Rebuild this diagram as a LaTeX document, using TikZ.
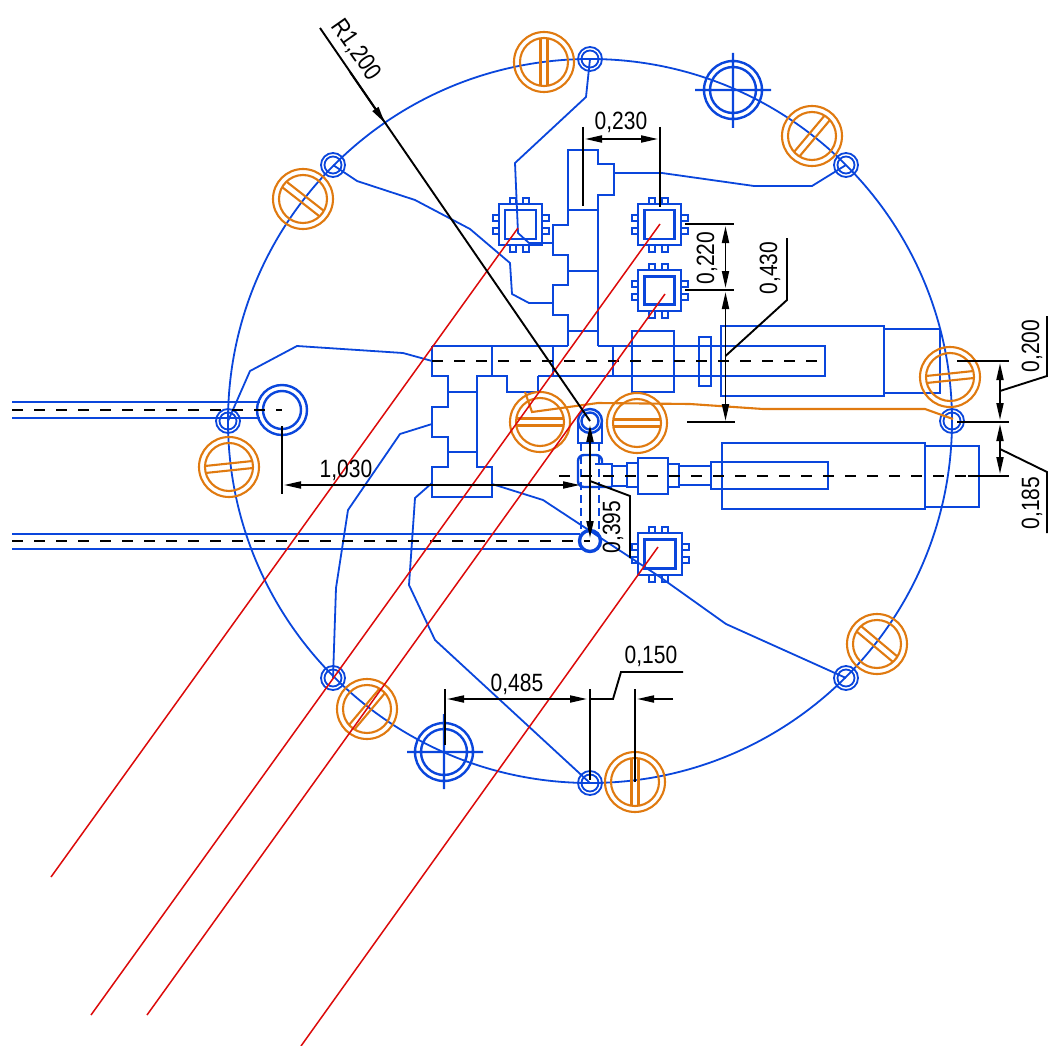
\documentclass[tikz,border=0pt]{standalone}
\usepackage{fontspec}
\setmainfont[FakeStretch=0.84]{Liberation Sans}
\usetikzlibrary{arrows.meta}
\definecolor{cblue}{HTML}{0A46DC}
\definecolor{corange}{HTML}{E07A10}
\definecolor{cred}{HTML}{DC0A0A}
\tikzset{
  part/.style={draw=cblue,line width=2.4pt,line join=miter},
  wire/.style={draw=cblue,line width=1.8pt,line join=round},
  screw/.style={draw=corange,line width=2.1pt},
  redline/.style={draw=cred,line width=1.5pt},
  dimline/.style={draw=black,line width=1.9pt},
  centreline/.style={draw=black,line width=2.1pt,dash pattern=on 11pt off 11pt},
  hiddenline/.style={draw=cblue,line width=2.1pt,dash pattern=on 8pt off 5pt},
  harrow/.style={{Triangle[length=17pt,width=7pt]}-{Triangle[length=17pt,width=7pt]}},
  tarrow/.style={-{Triangle[length=17pt,width=7pt]}},
  dimtext/.style={font=\fontsize{25}{25}\selectfont,inner sep=0pt,text=black}
}
\newcommand{\smallring}[1]{%
  \draw[wire] (#1) circle (12pt) (#1) circle (8.5pt);}
\newcommand{\slotscrew}[2]{%
  \draw[screw] (#1) circle (30pt) (#1) circle (24pt);
  \begin{scope}[shift={(#1)},rotate={-(#2)}]
    \draw[screw] (-23.6,-3.5) -- (23.6,-3.5) (-23.6,3.5) -- (23.6,3.5);
  \end{scope}}
\newcommand{\chipbox}[6]{%
  \draw[part] (#1,#2) rectangle (#3,#4);
  \draw[part] (#1+#5,#2+#6) rectangle (#3-#5,#4-#6);
  \foreach \pp in {11,24}{
    \draw[part,line width=2pt] (#1+\pp,#2) rectangle (#1+\pp+6,#2-6.5);
    \draw[part,line width=2pt] (#1+\pp,#4) rectangle (#1+\pp+6,#4+6.5);
    \draw[part,line width=2pt] (#1,#2+\pp) rectangle (#1-6.5,#2+\pp+6);
    \draw[part,line width=2pt] (#3,#2+\pp) rectangle (#3+6.5,#2+\pp+6);
  }}
\begin{document}
\begin{tikzpicture}[x=1pt,y=-1pt]
\useasboundingbox (0,0) rectangle (1050,1046);
\fill[white] (0,0) rectangle (1050,1046);

% big circle and wires
\coordinate (C) at (590,421);
\draw[wire] (C) circle (362pt);
\draw[wire] (590,59) -- (586,97) -- (515,163) -- (518,233) -- (529,243) -- (553,243);
\draw[wire] (333,165) -- (357,181) -- (415,200) -- (470,229) -- (510,263) -- (512,294) -- (529,303) -- (553,303);
\draw[wire] (846,165) -- (812,186) -- (754,186) -- (662,173) -- (614,173);
\draw[wire] (228,421) -- (250,371) -- (297,346) -- (403,353) -- (432,361);
\draw[wire] (333,678) -- (336,588) -- (348,510) -- (400,434) -- (432,424);
\draw[wire] (590,783) -- (435,640) -- (409,585) -- (415,498) -- (432,483);
\draw[wire] (846,678) -- (726,624) -- (660,577) -- (543,500) -- (492,484);

% blue parts: top block
\draw[part] (568,346) -- (568,315) -- (553,315) -- (553,285) -- (568,285) -- (568,255) -- (553,255) -- (553,225) -- (568,225) -- (568,150) -- (598,150) -- (598,164) -- (614,164) -- (614,195) -- (598,195) -- (598,346);
\draw[part] (568,210) -- (598,210) (568,271) -- (598,271) (568,331) -- (598,331);
% main band and left T
\draw[part] (432,346) -- (568,346) (598,346) -- (825,346) -- (825,376) -- (538,376);
\draw[part] (432,346) -- (432,376) -- (448,376) -- (448,407) -- (432,407) -- (432,437) -- (448,437) -- (448,467) -- (432,467) -- (432,497) -- (492,497) -- (492,467) -- (477,467) -- (477,376) -- (507,376) -- (507,392) -- (538,392) -- (538,376);
\draw[part] (448,392) -- (477,392) (448,452) -- (477,452);
\draw[part] (492,346) -- (492,376) (553,346) -- (553,376) (613,346) -- (613,376);
\draw[part] (632,331) rectangle (674,392);
\draw[part] (699,337) rectangle (711,386);
\draw[part] (721,326) rectangle (884,396);
\draw[part] (884,329) rectangle (940,393);
% lower assembly
\draw[part] (722,443) rectangle (925,509);
\draw[part] (925,446) rectangle (979,507);
\draw[part] (711,462) rectangle (828,489);
\draw[part] (679,466) -- (711,466) (679,485) -- (711,485);
\draw[part] (612,466) -- (627,466) (612,486) -- (627,486);
\draw[part] (627,463) rectangle (638,487);
\draw[part] (638,458) rectangle (668,494);
\draw[part] (668,464) rectangle (679,487);
\draw[part] (578,423) -- (578,443) -- (602,443) -- (602,423);
\draw[part,rounded corners=6pt] (602,464) -- (602,455) -- (578,455) -- (578,487) -- (612,487);
\draw[part] (595,464) -- (612,464) -- (612,487);
\draw[hiddenline] (581,443) -- (581,534) (599,443) -- (599,534);
% left bands
\draw[part] (12,402) -- (260,402) (12,418) -- (260,418);
\draw[part] (12,534) -- (580,534) (12,549) -- (582,549);
\draw[part] (282,410) circle (25pt) (282,410) circle (19pt);
\draw[part,line width=3.4pt] (590,541) circle (10.5pt);
% crosshair circles
\draw[part] (733,90) circle (29pt) (733,90) circle (23pt) (695,90) -- (771,90) (733,53) -- (733,128);
\draw[part] (444,752) circle (29pt) (444,752) circle (23pt) (407,752) -- (483,752) (444,714) -- (444,789);
% chips
\chipbox{499}{204}{542}{245}{6}{6}
\chipbox{638}{204}{681}{245}{6.5}{6}
\chipbox{638}{270}{681}{311}{6.5}{6.5}
\chipbox{638}{533}{682}{575}{6.5}{6.5}
% small rings
\foreach \xx/\yy in {590/59,846/165,952/421,846/678,590/783,333/678,228/421,333/165}{
  \smallring{\xx,\yy}}
\draw[part] (C) circle (12pt) (C) circle (8.5pt);

% orange screws
\slotscrew{544,62}{90}
\slotscrew{812,136}{-50}
\slotscrew{303,199}{38}
\slotscrew{229,467}{-6}
\slotscrew{367,709}{-50}
\slotscrew{635,782}{90}
\slotscrew{877,644}{40}
\slotscrew{950,377}{-6}
\slotscrew{540,422}{0}
\slotscrew{637,423}{0}
\draw[screw] (953,419) -- (925,409) -- (763,409) -- (690,404) -- (598,403) -- (532,412) -- (525,392);

% centre lines
\draw[centreline] (432,361) -- (825,361);
\draw[centreline] (559,476) -- (980,476);
\draw[centreline] (12,410) -- (282,410);
\draw[centreline] (12,541) -- (590,541);

% red lines
\draw[redline] (518,228) -- (51,877);
\draw[redline] (660,224) -- (91,1015);
\draw[redline] (665,294) -- (147,1015);
\draw[redline] (658,547) -- (301,1046);

% dimensions
% R1,200
\draw[dimline] (320,28) -- (590,421);
\draw[dimline,tarrow] (350,72) -- (385,123);
\node[dimtext,rotate=-55] (tR) at (356,50) {R1,200};
% 0,230
\draw[dimline] (583,127) -- (583,206) (660,127) -- (660,207);
\draw[dimline,harrow] (585,139) -- (658,139);
\node[dimtext] (t230) at (621,122) {0,230};
% 0,220
\draw[dimline] (685,224) -- (734,224) (685,290) -- (734,290);
\draw[dimline,harrow] (725.5,226) -- (725.5,288);
\node[dimtext,rotate=90] (t220) at (707,258) {0,220};
% 0,430
\draw[dimline,harrow] (725.5,292) -- (725.5,421);
\draw[dimline] (687,422) -- (735,422);
\draw[dimline] (725.5,356) -- (787,300) -- (787,238);
\node[dimtext,rotate=90] (t430) at (770,268) {0,430};
% 0,200 / 0,185
\draw[dimline] (957,361) -- (1009,361) (957,422) -- (1009,422) (968,476) -- (1009,476);
\draw[dimline,harrow] (1000,363) -- (1000,420);
\draw[dimline,harrow] (1000,424) -- (1000,474);
\draw[dimline] (1000,391) -- (1047,376) -- (1047,316);
\draw[dimline] (1000,449) -- (1047,472) -- (1047,533);
\node[dimtext,rotate=90] (t200) at (1032,346) {0,200};
\node[dimtext,rotate=90] (t185) at (1032,503) {0,185};
% 1,030
\draw[dimline] (282,426) -- (282,494);
\draw[dimline,harrow] (284,485) -- (580,485);
\node[dimtext] (t1030) at (346,470) {1,030};
% 0,395
\draw[dimline,harrow] (590,425) -- (590,538);
\draw[dimline] (590,481) -- (630,496) -- (630,558);
\node[dimtext,rotate=90] (t395) at (613,527) {0,395};
% 0,485 / 0,150
\draw[dimline] (445,689) -- (445,745) (590,689) -- (590,780) (635,689) -- (635,782);
\draw[dimline,harrow] (447,699) -- (587,699);
\draw[dimline] (590,699) -- (613,699) -- (621,672) -- (683,672);
\draw[dimline,tarrow] (673,699) -- (637,699);
\node[dimtext] (t485) at (517,684) {0,485};
\node[dimtext] (t150) at (651,656) {0,150};
\end{tikzpicture}
\end{document}
